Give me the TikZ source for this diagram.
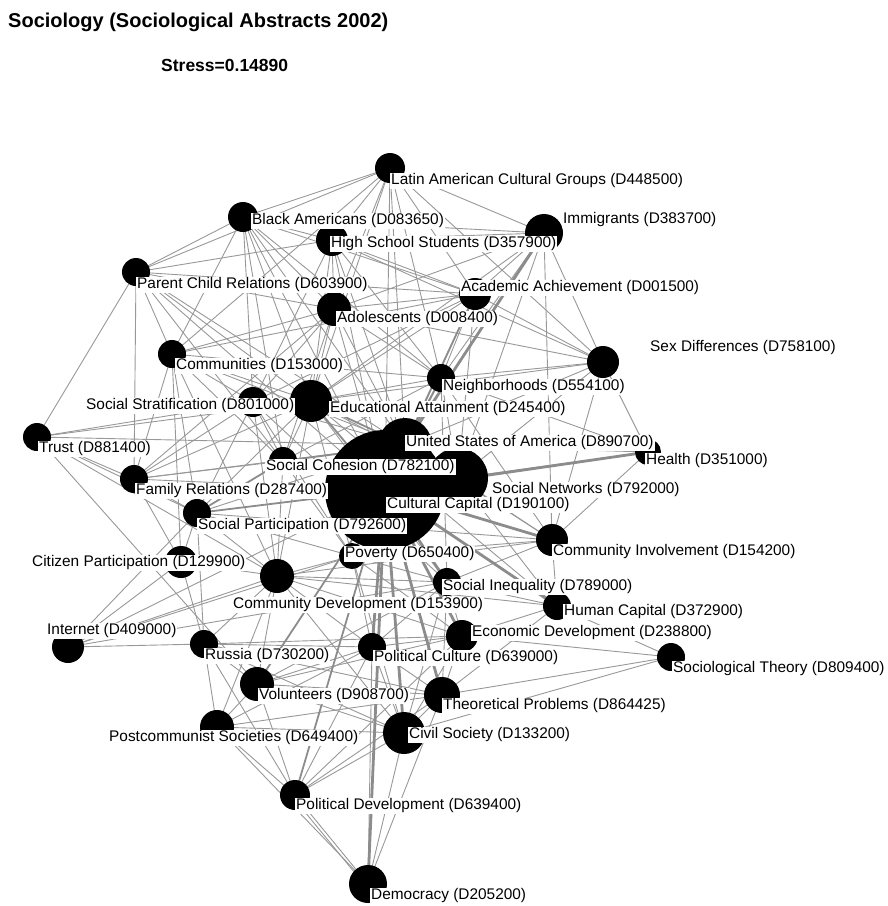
\documentclass[tikz,border=0pt]{standalone}
\usepackage{fontspec}
\setmainfont{Liberation Sans}
\pgfdeclarelayer{edgelayer}
\pgfsetlayers{edgelayer,main}
\definecolor{edgegray}{RGB}{152,152,152}
\definecolor{thickgray}{RGB}{140,140,140}
\begin{document}
\begin{tikzpicture}[x=1pt,y=-1pt,
  dot/.style={circle, fill=black, draw=none, inner sep=0pt, minimum size={2*#1pt}},
  lab/.style={anchor=west, fill=white, inner xsep=1pt, inner ysep=1pt,
              font=\fontsize{15.4}{15.4}\selectfont, text=black},
  link/.style={draw=edgegray, line width=0.9pt},
  midlink/.style={draw=thickgray, line width=1.8pt},
  heavy/.style={draw=thickgray, line width=2.8pt}]
\useasboundingbox (0,0) rectangle (888,906);

% headings
\node[anchor=west, inner sep=0pt, font=\fontsize{20}{20}\selectfont\bfseries] (title) at (8,22) {Sociology (Sociological Abstracts 2002)};
\node[anchor=west, inner sep=0pt, font=\fontsize{17.5}{17.5}\selectfont\bfseries] (stress) at (161,65) {Stress=0.14890};

% descriptor positions (dots)
\node[dot=15] (LA) at (390,168) {};
\node[dot=15] (BA) at (243,217) {};
\node[dot=16] (HS) at (332,240) {};
\node[dot=19] (IM) at (544,233) {};
\node[dot=14] (PC) at (136,272) {};
\node[dot=16] (AA) at (475,294) {};
\node[dot=17] (AD) at (334,309) {};
\node[dot=14] (CO) at (172,354) {};
\node[dot=16] (SD) at (603,362) {};
\node[dot=14] (NE) at (441,378) {};
\node[dot=15] (SS) at (253,402) {};
\node[dot=21] (EA) at (311,401) {};
\node[dot=14] (TR) at (37,437) {};
\node[dot=27] (US) at (405,445) {};
\node[dot=13] (HE) at (648,452) {};
\node[dot=14] (SC) at (283,461) {};
\node[dot=14] (FR) at (134,479) {};
\node[dot=30] (SN) at (458,478) {};
\node[dot=60] (CC) at (385,490) {};
\node[dot=14] (SP) at (197,513) {};
\node[dot=16] (CP) at (181,562) {};
\node[dot=13] (PO) at (352,556) {};
\node[dot=16] (CI) at (552,540) {};
\node[dot=17] (CD) at (277,576) {};
\node[dot=14] (SI) at (447,582) {};
\node[dot=14] (HC) at (557,606) {};
\node[dot=16] (EC) at (462,636) {};
\node[dot=16] (IN) at (68,647) {};
\node[dot=14] (RU) at (204,644) {};
\node[dot=14] (PL) at (372,647) {};
\node[dot=14] (ST) at (671,657) {};
\node[dot=17] (VO) at (257,684) {};
\node[dot=18] (TP) at (442,695) {};
\node[dot=17] (PS) at (217,727) {};
\node[dot=21] (CS) at (404,733) {};
\node[dot=15] (PD) at (295,795) {};
\node[dot=19] (DE) at (368,884) {};

% co-occurrence links
\begin{pgfonlayer}{edgelayer}
\foreach \a/\b in {
  LA/BA, LA/PC, LA/IM, LA/SD, LA/HS, LA/AD, LA/EA, LA/US, LA/AA, LA/NE, LA/CC, LA/CO,
  BA/PC, BA/HS, BA/SS, BA/AA, BA/AD, BA/EA, BA/US, BA/SC, BA/CC, BA/NE, BA/CO, BA/IM,
  PC/TR, PC/FR, PC/HS, PC/AD, PC/EA, PC/US, PC/SC, PC/AA, PC/CO, PC/CC,
  HS/AA, HS/AD, HS/EA, HS/US, HS/NE, HS/CC, HS/IM, HS/SD, HS/SS,
  IM/SD, IM/AA, IM/AD, IM/NE, IM/EA, IM/SN, IM/CI,
  AA/SD, AA/NE, AA/EA, AA/AD, AA/CC, AA/SN, AA/SS, AA/CO,
  AD/EA, AD/US, AD/SC, AD/CC, AD/CO, AD/NE, AD/SD, AD/FR, AD/SS,
  CO/SS, CO/EA, CO/SC, CO/CP, CO/SP, CO/CD, CO/US, CO/NE, CO/FR,
  SD/NE, SD/US, SD/HE, SD/SN, SD/CI, SD/EA,
  NE/EA, NE/SN, NE/CI, NE/PO, NE/SI, NE/HE, NE/SC,
  SS/EA, SS/US, SS/SC, SS/SI, SS/PO, SS/FR, SS/SP, SS/CD, SS/TR,
  EA/SC, EA/SN, EA/PO, EA/SI, EA/HC, EA/CD, EA/SP, EA/FR, EA/TR,
  TR/US, TR/FR, TR/VO, TR/SP, TR/CD,
  IN/RU, IN/CP, IN/SP, IN/CD, IN/SI, IN/CC, IN/PO,
  RU/PS, RU/VO, RU/PD, RU/CS, RU/PL, RU/CD, RU/TP, RU/EC, RU/CP, RU/SP,
  VO/PS, VO/PD, VO/CS, VO/TP, VO/CD, VO/PL, VO/SI, VO/EC,
  PS/PD, PS/DE, PS/CS, PS/TP, PS/PL, PS/CD,
  PD/DE, PD/CS, PD/TP, PD/PL, PD/EC,
  DE/CS, DE/TP, DE/PL,
  CS/TP, CS/PL, CS/EC, CS/ST, CS/PO, CS/SI, CS/CD,
  TP/ST, TP/PL, TP/EC, TP/SI, TP/HC,
  ST/EC, ST/HC,
  EC/HC, EC/PL, EC/SI, EC/CD, EC/PO,
  HC/CD, HC/SI, HC/SN, HC/CI,
  SI/PO, SI/CD, SI/CI, SI/PL,
  CI/SN, CI/PO, CI/CD, CI/SP, CI/US, CI/SC, CI/HE,
  CD/SP, CD/CP, CD/PO, CD/PL, CD/SC,
  PO/US, PO/PL, PO/SP, PO/SC,
  SP/FR, SP/CP, SP/US,
  FR/SC, FR/US, FR/CC, FR/CP,
  HE/SN, HE/US,
  SN/US, SN/SC}
  \draw[link] (\a.center) -- (\b.center);
\draw[link] ([xshift=-4pt]PD.center) -- ([xshift=-4pt]DE.center);
\foreach \a/\b in {CC/PO, CC/SP, CC/EA, US/EA, US/SC, CC/PD, CC/VO, SC/SP, US/NE, CC/SN, US/AA}
  \draw[midlink] (\a.center) -- (\b.center);
\foreach \a/\b in {CC/DE, CC/CS, CC/TP, CC/EC, CC/SI, CC/PL, CC/HE, CC/HC, US/IM, CC/CI}
  \draw[heavy] (\a.center) -- (\b.center);
\end{pgfonlayer}

% descriptor labels
\node[lab] (LA-l) at (390,181) {Latin American Cultural Groups (D448500)};
\node[lab] (BA-l) at (251,221) {Black Americans (D083650)};
\node[lab] (HS-l) at (330,244) {High School Students (D357900)};
\node[lab] (IM-l) at (562,220) {Immigrants (D383700)};
\node[lab] (PC-l) at (136,285) {Parent Child Relations (D603900)};
\node[lab] (AA-l) at (460,288) {Academic Achievement (D001500)};
\node[lab] (AD-l) at (336,319) {Adolescents (D008400)};
\node[lab] (CO-l) at (175,366) {Communities (D153000)};
\node[lab] (SD-l) at (649,348) {Sex Differences (D758100)};
\node[lab] (NE-l) at (442,387) {Neighborhoods (D554100)};
\node[lab] (SS-l) at (85,406) {Social Stratification (D801000)};
\node[lab] (EA-l) at (329,409) {Educational Attainment (D245400)};
\node[lab] (TR-l) at (38,449) {Trust (D881400)};
\node[lab] (US-l) at (405,443) {United States of America (D890700)};
\node[lab] (HE-l) at (645,461) {Health (D351000)};
\node[lab] (SC-l) at (265,467) {Social Cohesion (D782100)};
\node[lab] (FR-l) at (135,491) {Family Relations (D287400)};
\node[lab] (SN-l) at (491,490) {Social Networks (D792000)};
\node[lab] (CC-l) at (386,505) {Cultural Capital (D190100)};
\node[lab] (SP-l) at (197,526) {Social Participation (D792600)};
\node[lab] (CP-l) at (31,563) {Citizen Participation (D129900)};
\node[lab] (PO-l) at (344,554) {Poverty (D650400)};
\node[lab] (CI-l) at (552,552) {Community Involvement (D154200)};
\node[lab] (CD-l) at (232,605) {Community Development (D153900)};
\node[lab] (SI-l) at (442,587) {Social Inequality (D789000)};
\node[lab] (HC-l) at (563,612) {Human Capital (D372900)};
\node[lab] (EC-l) at (471,633) {Economic Development (D238800)};
\node[lab] (IN-l) at (46,631) {Internet (D409000)};
\node[lab] (RU-l) at (204,656) {Russia (D730200)};
\node[lab] (PL-l) at (373,658) {Political Culture (D639000)};
\node[lab] (ST-l) at (672,669) {Sociological Theory (D809400)};
\node[lab] (VO-l) at (258,696) {Volunteers (D908700)};
\node[lab] (TP-l) at (442,706) {Theoretical Problems (D864425)};
\node[lab] (PS-l) at (108,738) {Postcommunist Societies (D649400)};
\node[lab] (CS-l) at (408,735) {Civil Society (D133200)};
\node[lab] (PD-l) at (295,806) {Political Development (D639400)};
\node[lab] (DE-l) at (370,896) {Democracy (D205200)};
\end{tikzpicture}
\end{document}
